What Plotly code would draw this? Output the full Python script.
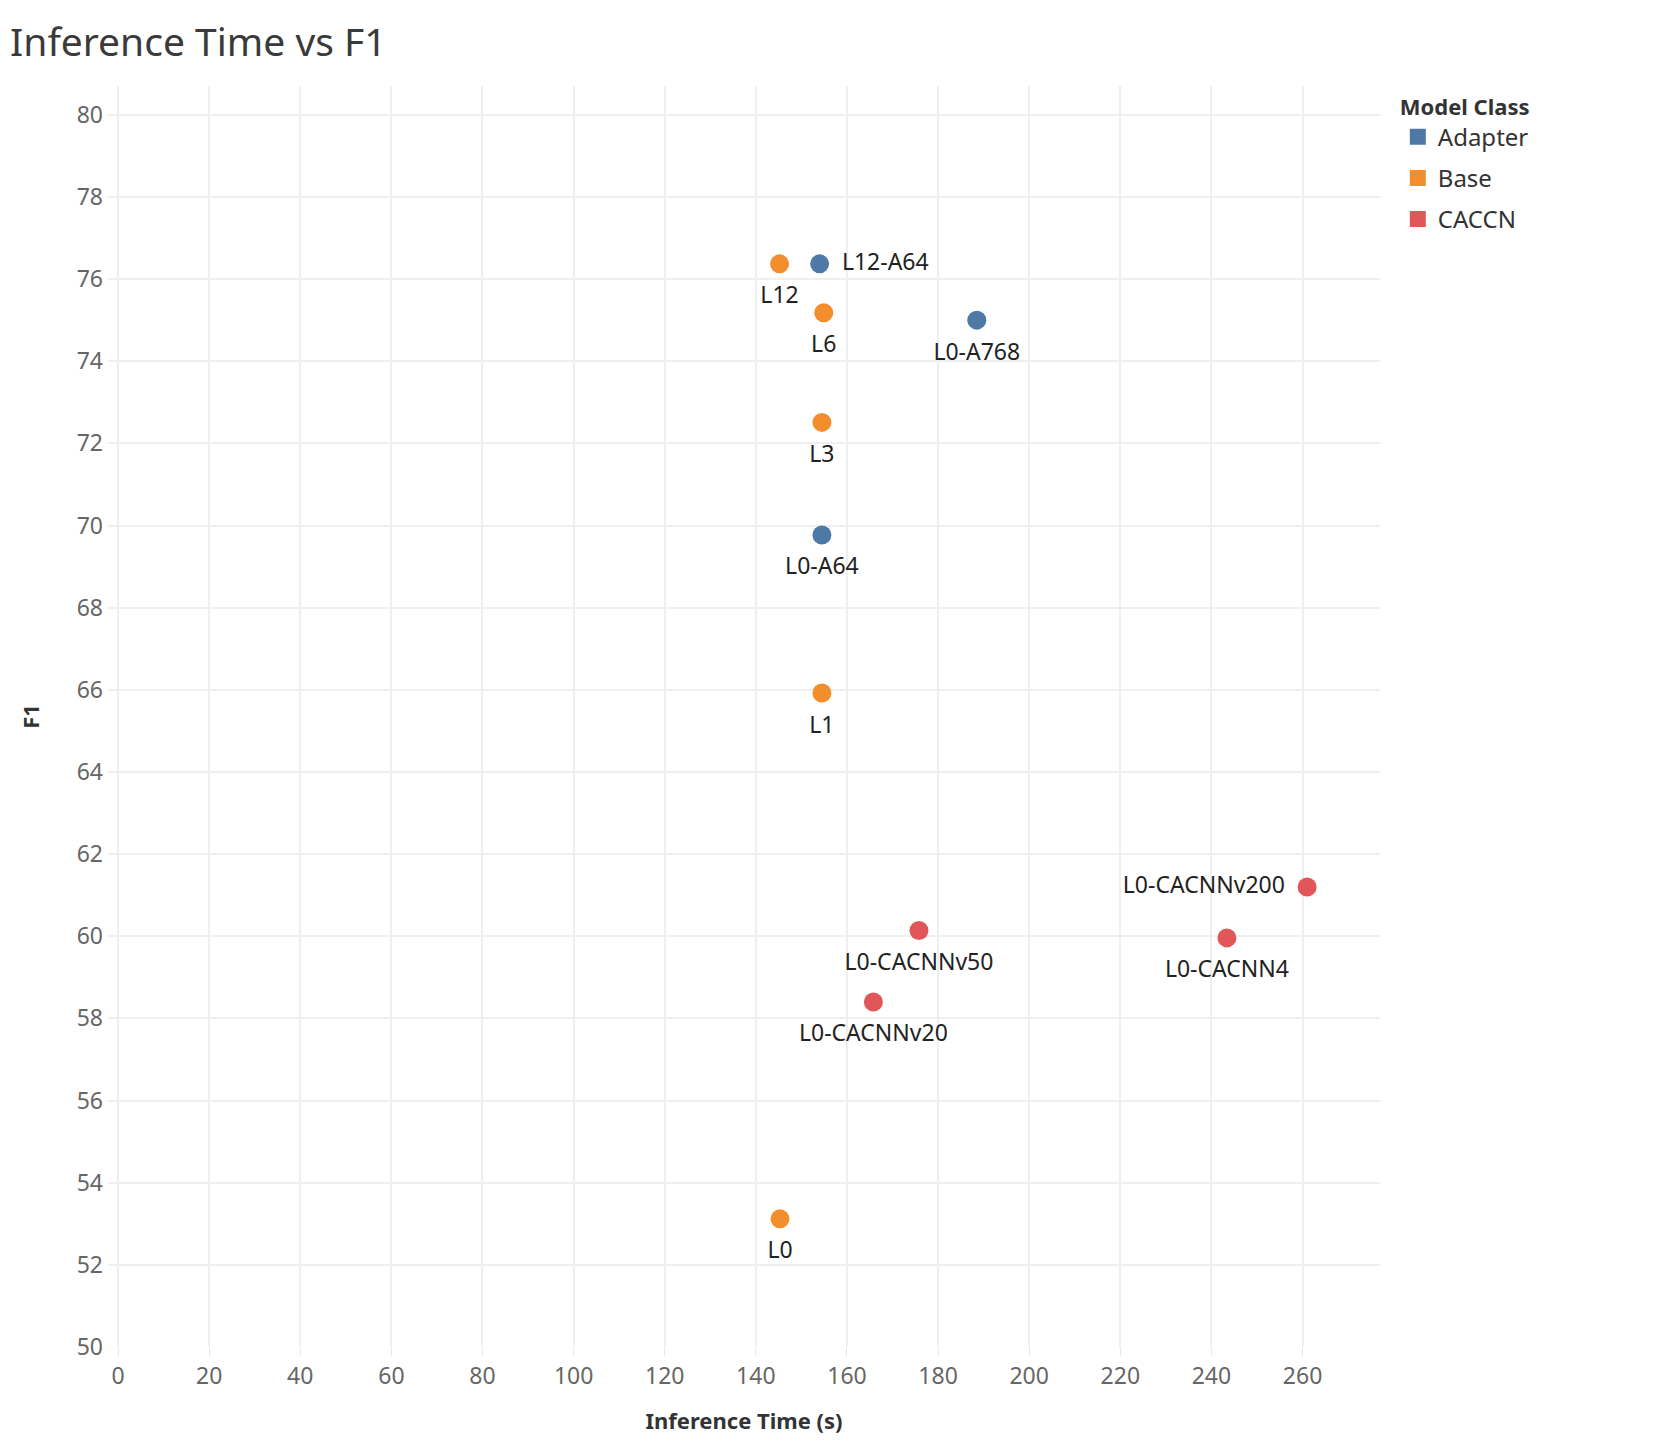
import plotly.graph_objects as go

# ── data ─────────────────────────────────────────────────────────────────────
CLASSES = ['Adapter', 'Base', 'CACCN']
CLASS_COLORS = {
    'Adapter': '#4e79a7',
    'Base':    '#f28e2b',
    'CACCN':   '#e15759',
}

adapter_models = ['L12-A64', 'L0-A768', 'L0-A64']
adapter_time   = [154.0, 188.5, 154.5]
adapter_f1     = [76.37, 75.00, 69.77]

base_models = ['L12', 'L6', 'L3', 'L1', 'L0']
base_time   = [145.2, 154.9, 154.5, 154.5, 145.3]
base_f1     = [76.37, 75.18, 72.51, 65.92, 53.12]

caccn_models = ['L0-CACNNv200', 'L0-CACNNv50', 'L0-CACNN4', 'L0-CACNNv20']
caccn_time   = [261.0, 175.8, 243.4, 165.8]
caccn_f1     = [61.20, 60.14, 59.96, 58.40]

x_ticks = list(range(0, 261, 20))
y_ticks = list(range(50, 81, 2))

FONT = 'Noto Sans'
GRID = '#efefef'

# label placement per point (Tableau-style: under the mark, a few to the side)
LABEL_POS = {
    'L12-A64': 'middle right',
    'L0-CACNNv200': 'middle left',
}

series = {
    'Adapter': (adapter_models, adapter_time, adapter_f1),
    'Base':    (base_models, base_time, base_f1),
    'CACCN':   (caccn_models, caccn_time, caccn_f1),
}

fig = go.Figure()
for cls in CLASSES:
    names, xs, ys = series[cls]
    # visible marks
    fig.add_trace(go.Scatter(
        x=xs, y=ys, mode='markers',
        marker=dict(color=CLASS_COLORS[cls], size=19, line=dict(width=0)),
        showlegend=False, hoverinfo='skip',
    ))
    # labels, pushed a bit further off the marks by a larger invisible marker
    fig.add_trace(go.Scatter(
        x=xs, y=ys, mode='markers+text',
        text=names,
        textposition=[LABEL_POS.get(n, 'bottom center') for n in names],
        textfont=dict(family=FONT, size=23, color='#222222'),
        marker=dict(color=CLASS_COLORS[cls], size=34, opacity=0),
        showlegend=False, cliponaxis=False,
    ))

# legend entries with square swatches
for cls in CLASSES:
    fig.add_trace(go.Scatter(
        x=[None], y=[None], mode='markers', name=cls, legendgroup=cls,
        marker=dict(color=CLASS_COLORS[cls], symbol='square', size=16),
    ))

fig.update_layout(
    width=1678, height=1456,
    template='plotly_white',
    plot_bgcolor='white',
    paper_bgcolor='white',
    margin=dict(l=108, r=298, t=86, b=109),
    title=dict(text='Inference Time vs F1', x=0.006, xref='container', xanchor='left',
               y=1 - 42 / 1456, yref='container', yanchor='middle',
               font=dict(family=FONT, size=39, color='#3a3a3a')),
    font=dict(family=FONT),
    legend=dict(
        title=dict(text='<b>Model Class</b>', font=dict(family=FONT, size=22, color='#333333')),
        font=dict(family=FONT, size=24, color='#333333'),
        x=1.014, xanchor='left', y=1.0, yanchor='top',
        traceorder='grouped', tracegroupgap=7,
    ),
    xaxis=dict(
        range=[-2.2, 277], tickvals=x_ticks,
        showgrid=True, gridcolor=GRID, gridwidth=1.5,
        zeroline=False, showline=False,
        ticks='outside', ticklen=8, tickcolor='#e6e6e6', tickwidth=1,
        tickfont=dict(family=FONT, size=23, color='#666666'),
        title=dict(text='<b>Inference Time (s)</b>', standoff=24,
                   font=dict(family=FONT, size=22, color='#333333')),
    ),
    yaxis=dict(
        range=[50, 80.7], tickvals=y_ticks,
        showgrid=True, gridcolor=GRID, gridwidth=1.5,
        zeroline=False, showline=False,
        ticks='', ticklabelstandoff=4,
        tickfont=dict(family=FONT, size=23, color='#666666'),
        title=dict(text='<b>F1</b>', standoff=30,
                   font=dict(family=FONT, size=22, color='#333333')),
    ),
)

# drop the browser's default 8px body margin so the figure sits at the page origin
fig.write_html('out.html', config={'displayModeBar': False},
               post_script="document.body.style.margin='0';")
